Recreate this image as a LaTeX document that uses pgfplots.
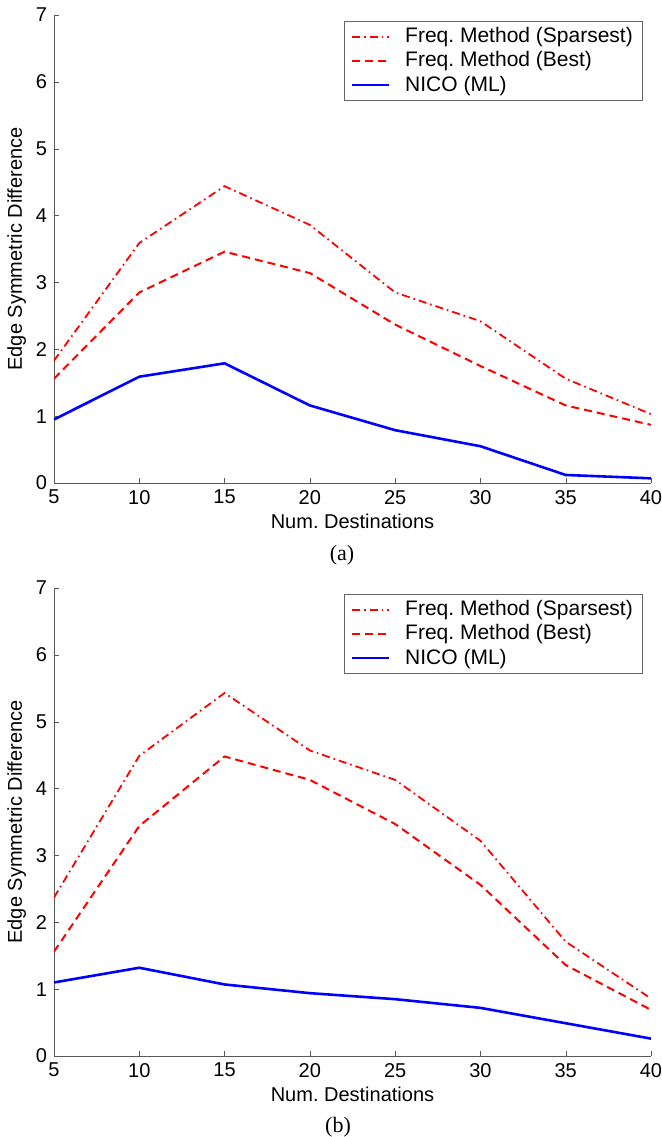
\documentclass[border=0pt]{standalone}
\usepackage{fontspec}
\setmainfont{Liberation Sans}
\newfontfamily\capfont{Liberation Serif}
\usepackage{pgfplots}
\pgfplotsset{compat=1.18}
\frenchspacing

\pgfplotsset{
  nico/.style={
    width=298.5pt, height=234pt, scale only axis,
    xmin=5, xmax=40, ymin=0, ymax=7,
    xtick={5,10,...,40}, ytick={0,1,...,7},
    axis lines=left, axis line style={-, black!65},
    tick align=inside, tick style={black!65},
    major tick length=2.5pt,
    /pgf/number format/assume math mode=true,
    tick label style={font=\fontsize{10}{12}\selectfont},
    label style={font=\fontsize{10}{12}\selectfont},
    xlabel={Num. Destinations},
    ylabel={Edge Symmetric Difference},
    xlabel style={yshift=2pt},
    ylabel style={yshift=-2pt},
    legend cell align=left,
    legend image code/.code={\draw[##1] (0pt,0pt) -- (18.5pt,0pt); \path (24pt,0pt);},
    legend style={at={(0.987,0.987)}, anchor=north east,
      draw=black!60, font=\fontsize{10.5}{12.5}\selectfont,
      inner xsep=3pt, inner ysep=1pt, row sep=-1pt},
  },
  spars/.style={red, line width=0.9pt, dash pattern=on 4pt off 2pt on 0.8pt off 2pt},
  best/.style={red, line width=1pt, dash pattern=on 4pt off 2.5pt},
  ml/.style={blue, line width=1.3pt},
}

\begin{document}
\begin{tikzpicture}
\path[use as bounding box] (0,0) rectangle (331pt,568.5pt);

% (a)
\begin{axis}[nico, at={(27pt,327pt)}, anchor=south west]
  \addplot[spars] coordinates {(5,1.83)(10,3.59)(15,4.44)(20,3.86)(25,2.85)(30,2.42)(35,1.56)(40,1.03)};
  \addlegendentry{Freq. Method (Sparsest)}
  \addplot[best] coordinates {(5,1.56)(10,2.85)(15,3.46)(20,3.14)(25,2.37)(30,1.75)(35,1.16)(40,0.87)};
  \addlegendentry{Freq. Method (Best)}
  \addplot[ml] coordinates {(5,0.95)(10,1.59)(15,1.79)(20,1.16)(25,0.79)(30,0.55)(35,0.12)(40,0.07)};
  \addlegendentry{NICO (ML)}
\end{axis}
\node[font=\capfont\fontsize{11}{13}\selectfont] at (171pt,291pt) {(a)};

% (b)
\begin{axis}[nico, at={(27pt,40.5pt)}, anchor=south west]
  \addplot[spars] coordinates {(5,2.37)(10,4.49)(15,5.43)(20,4.57)(25,4.13)(30,3.22)(35,1.71)(40,0.86)};
  \addlegendentry{Freq. Method (Sparsest)}
  \addplot[best] coordinates {(5,1.56)(10,3.44)(15,4.48)(20,4.13)(25,3.47)(30,2.56)(35,1.36)(40,0.69)};
  \addlegendentry{Freq. Method (Best)}
  \addplot[ml] coordinates {(5,1.10)(10,1.32)(15,1.07)(20,0.94)(25,0.85)(30,0.72)(35,0.49)(40,0.26)};
  \addlegendentry{NICO (ML)}
\end{axis}
\node[font=\capfont\fontsize{11}{13}\selectfont] at (169pt,5pt) {(b)};
\end{tikzpicture}
\end{document}
